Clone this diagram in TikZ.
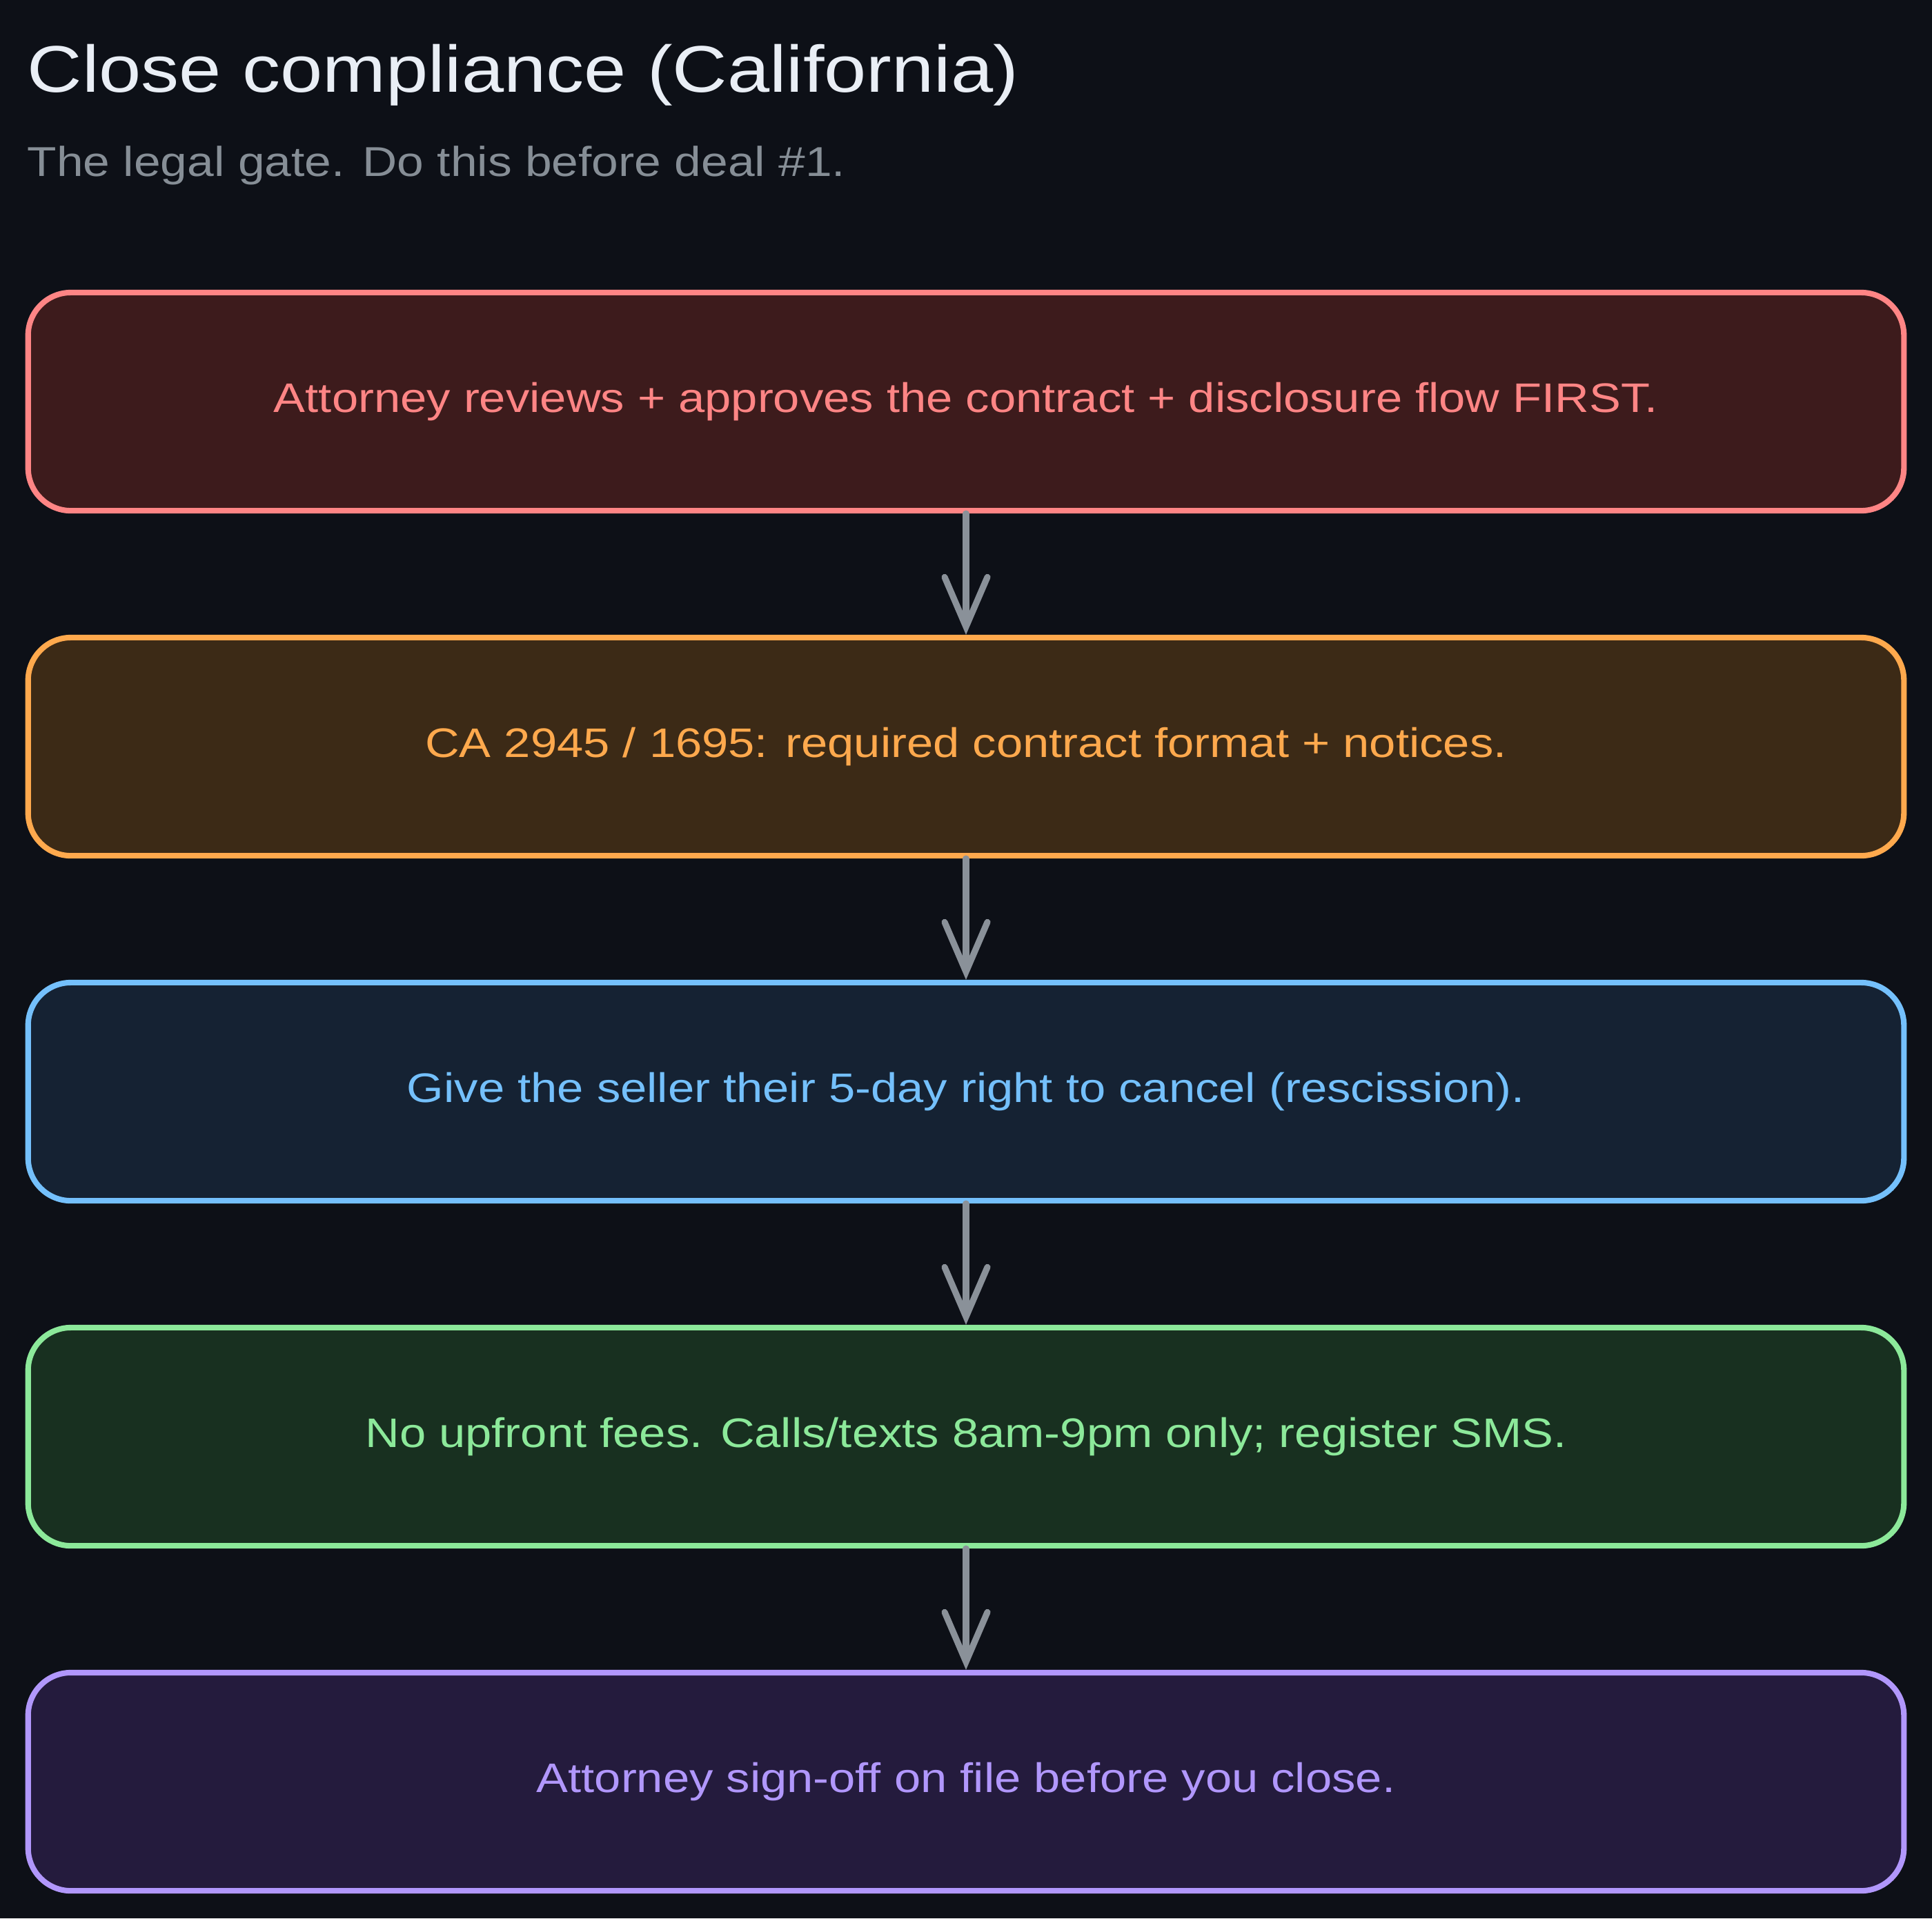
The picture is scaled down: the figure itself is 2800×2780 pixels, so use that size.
\documentclass[tikz,border=0pt]{standalone}
\usepackage{fontspec}
\setmainfont[FakeStretch=1.15]{Liberation Sans}
\usetikzlibrary{arrows.meta}
\definecolor{bg}{HTML}{0D1017}
\definecolor{titlec}{HTML}{E9EEF5}
\definecolor{subc}{HTML}{868E96}
\definecolor{arrowc}{HTML}{8A9199}
\definecolor{redS}{HTML}{FF8585}\definecolor{redF}{HTML}{3D1B1C}
\definecolor{orgS}{HTML}{FFA94D}\definecolor{orgF}{HTML}{3C2A16}
\definecolor{bluS}{HTML}{74C0FC}\definecolor{bluF}{HTML}{152233}
\definecolor{grnS}{HTML}{8CE99A}\definecolor{grnF}{HTML}{183020}
\definecolor{purS}{HTML}{B197FC}\definecolor{purF}{HTML}{241B3D}
\tikzset{
  stepbox/.style={rectangle, rounded corners=0.62cm, line width=2.3pt,
    minimum width=27.17cm, minimum height=3.16cm, inner sep=0pt, align=center,
    font=\fontsize{17pt}{20pt}\selectfont},
  flowarrow/.style={draw=arrowc, line width=2.6pt, line cap=round,
    -{Straight Barb[length=0.72cm, width=0.62cm, line cap=round]}},
}
\begin{document}
\begin{tikzpicture}[x=0.01cm, y=-0.01cm]
\fill[bg] (0,0) rectangle (2800,2780);
\useasboundingbox (0,0) rectangle (2800,2780);
\node[anchor=base west, text=titlec, inner sep=0pt, font=\fontsize{27.2pt}{32pt}\selectfont] (title) at (39,133) {Close compliance (California)};
\node[anchor=base west, text=subc, inner sep=0pt, font=\fontsize{17.2pt}{20pt}\selectfont] (subtitle) at (39,255) {The legal gate. Do this before deal \#1.};
\node[stepbox, draw=redS, fill=redF, text=redS] (b1) at (1400,582) {Attorney reviews + approves the contract + disclosure flow FIRST.};
\node[stepbox, draw=orgS, fill=orgF, text=orgS] (b2) at (1400,1082) {CA 2945 / 1695: required contract format + notices.};
\node[stepbox, draw=bluS, fill=bluF, text=bluS] (b3) at (1400,1582) {Give the seller their 5-day right to cancel (rescission).};
\node[stepbox, draw=grnS, fill=grnF, text=grnS] (b4) at (1400,2082) {No upfront fees. Calls/texts 8am-9pm only; register SMS.};
\node[stepbox, draw=purS, fill=purF, text=purS] (b5) at (1400,2582) {Attorney sign-off on file before you close.};
\draw[flowarrow] (b1.south) -- (b2.north);
\draw[flowarrow] (b2.south) -- (b3.north);
\draw[flowarrow] (b3.south) -- (b4.north);
\draw[flowarrow] (b4.south) -- (b5.north);
\end{tikzpicture}
\end{document}
